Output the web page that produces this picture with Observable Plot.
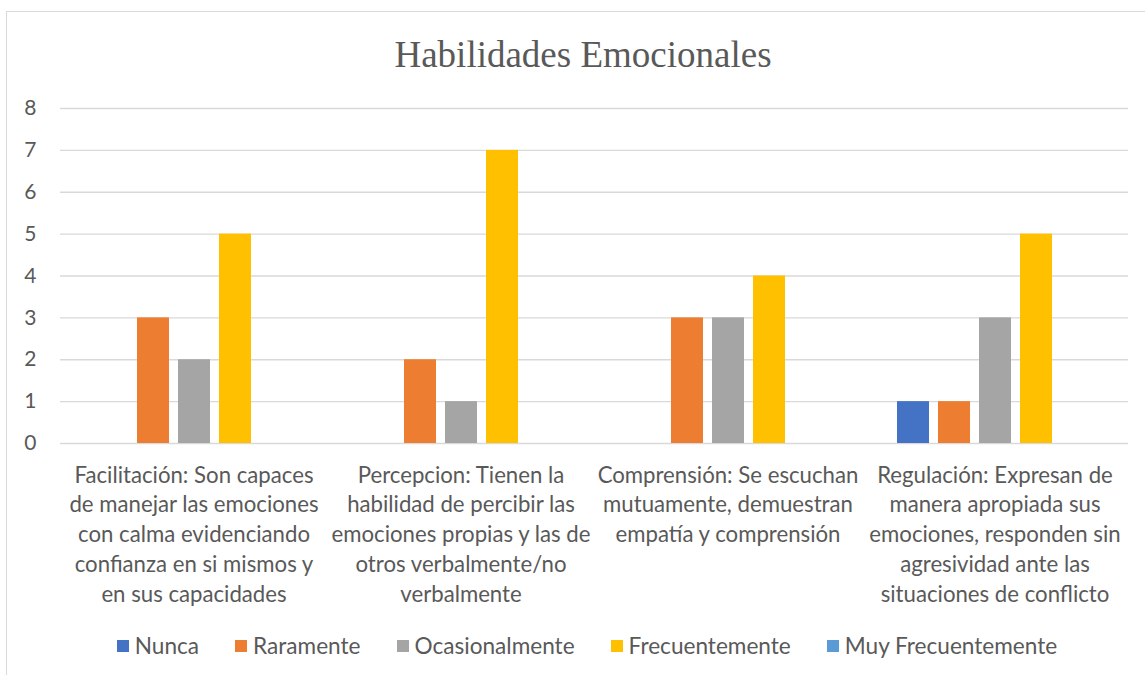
<!DOCTYPE html>
<html><head><meta charset="utf-8">
<script src="https://cdn.jsdelivr.net/npm/d3@7"></script>
<script src="https://cdn.jsdelivr.net/npm/@observablehq/plot@0.6"></script>
<style>
body{margin:0;background:#fff;font-family:Lato,sans-serif;width:1145px;height:675px;overflow:hidden;position:relative;}
#frame{position:absolute;left:6px;top:11px;width:1200px;height:700px;border-left:1.3px solid #d9d9d9;border-top:1.3px solid #d9d9d9;}
#title{position:absolute;left:0;width:1166px;top:34px;text-align:center;font-family:"Liberation Serif",serif;font-size:37px;color:#595959;line-height:42px;}
#chart{position:absolute;left:0;top:90px;}
#legend{position:absolute;top:632px;left:0;width:1174px;display:flex;justify-content:center;align-items:center;font-size:22.6px;color:#595959;line-height:28px;}
.item{display:flex;align-items:center;margin:0 18px;}
.sw{width:12px;height:12px;margin-right:6px;}
</style></head>
<body>
<div id="frame"></div>
<div id="title">Habilidades Emocionales</div>
<div id="chart"></div>
<div id="legend"></div>
<script>
const categories = [
  "Facilitación: Son capaces\nde manejar las emociones\ncon calma evidenciando\nconfianza en si mismos y\nen sus capacidades",
  "Percepcion: Tienen la\nhabilidad de percibir las\nemociones propias y las de\notros verbalmente/no\nverbalmente",
  "Comprensión: Se escuchan\nmutuamente, demuestran\nempatía y comprensión",
  "Regulación: Expresan de\nmanera apropiada sus\nemociones, responden sin\nagresividad ante las\nsituaciones de conflicto"
];
const series = ["Nunca","Raramente","Ocasionalmente","Frecuentemente","Muy Frecuentemente"];
const nunca = [0,0,0,1];
const raramente = [3,2,3,1];
const ocasionalmente = [2,1,3,3];
const frecuentemente = [5,7,4,5];
const muyFrecuentemente = [0,0,0,0];
const colors = ["#4472C4","#ED7D31","#A5A5A5","#FFC000","#5B9BD5"];
const yTicks = [0,1,2,3,4,5,6,7,8];

const values = [nunca, raramente, ocasionalmente, frecuentemente, muyFrecuentemente];
const rows = [];
categories.forEach((c,i)=>series.forEach((s,j)=>rows.push({category:c, series:s, value:values[j][i]})));

const chart = Plot.plot({
  width:1145, height:523,
  marginLeft:58, marginRight:16, marginTop:18, marginBottom:170,
  style:{fontFamily:"Lato, sans-serif", fontSize:"21px", color:"#595959", background:"transparent", overflow:"visible"},
  fx:{domain:categories, padding:0, label:null},
  x:{domain:series, paddingInner:0.225, paddingOuter:0.854, axis:null},
  y:{domain:[0,8], label:null},
  color:{domain:series, range:colors},
  marks:[
    Plot.gridY(yTicks,{stroke:"#d9d9d9", strokeOpacity:1, strokeWidth:1.3}),
    Plot.barY(rows.filter(d=>d.value>0),{fx:"category", x:"series", y:"value", fill:"series"}),
    Plot.axisY(yTicks,{tickSize:0, tickPadding:24, fontSize:21, label:null}),
    Plot.axisFx({anchor:"bottom", tickSize:0, tickPadding:18, lineHeight:1.34, fontSize:22.2, label:null})
  ]
});
document.getElementById("chart").appendChild(chart);

const legend = document.getElementById("legend");
series.forEach((s,j)=>{
  const it = document.createElement("div"); it.className="item";
  const sw = document.createElement("div"); sw.className="sw"; sw.style.background=colors[j];
  const tx = document.createElement("span"); tx.textContent=s;
  it.appendChild(sw); it.appendChild(tx); legend.appendChild(it);
});
</script>
</body></html>
